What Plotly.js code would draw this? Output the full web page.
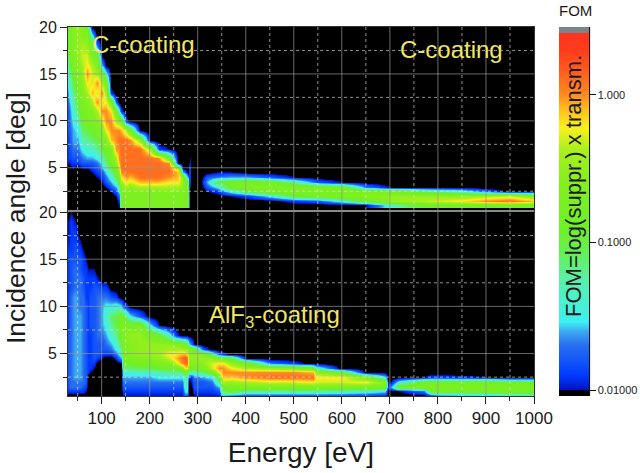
<!DOCTYPE html>
<html><head><meta charset="utf-8">
<script src="https://cdn.plot.ly/plotly-3.0.0.min.js"></script>
<style>html,body{margin:0;padding:0;background:#fff}#c{width:640px;height:473px}</style>
</head><body><div id="c"></div>
<script>
// FOM values are stored as 10*log10(FOM); N = below the 0.01 scale floor (black).
const N = -21;
const topAngles = [1,1.5,2,2.5,3,3.5,4,4.5,5,5.5,6,7,8,9,10,11,12,13,14,15,16,17,18,19,20];
const topEnergies = [30,40,50,60,70,80,90,100,110,120,130,136,140,150,160,180,200,220,240,260,270,279,281,284,287,305,310,320,340,370,400,450,500,550,600,650,700,750,800,850,900,950,1000];
const topFom = [
[N,N,N,N,N,N,N,N,N,-20,-19,-19,-19,-18,-18,-18,-17,-16,-15,-14,-12,-10,-9,-8,-8],
[N,N,N,N,N,N,N,N,-20,-19,-18,-17,-16,-16,-15,-14,-13,-12,-10,-8,-7,-6,-6,-6,-6],
[N,N,N,N,N,N,N,N,N,-19,-18,-17,-16,-15,-13,-11,-9,-8,-7,-6,-6,-5,-5,-5,-5],
[N,N,N,N,N,N,N,N,-20,-18,-17,-15,-13,-11,-9,-8,-7,-6,-6,-5,-4,-3,-4,-6,-6],
[N,N,N,N,N,N,N,N,-20,-18,-16,-14,-12,-10,-8,-7,-6,-4,-2,0,-2,-3,-5,-6,-9],
[N,N,N,N,N,N,N,-20,-19,-18,-16,-14,-11,-9,-7,-6,-4,-1,-3,-3,-4,-7,-8,-14],
[N,N,N,N,N,N,-20,-19,-18,-17,-15,-12,-10,-8,-6,-4,0,-3,0,-4,-7,-8,-17],
[N,N,N,N,N,-20,-19,-18,-16,-15,-13,-10,-8,-6,-3,0,-3,0,-4,-7,-16],
[N,N,N,N,-20,-18,-17,-15,-13,-11,-10,-8,-6,-2,0,0,-2,-5,-7,-14],
[N,N,N,-20,-18,-16,-14,-12,-10,-8,-7,-7,-1,0,0,-2,-7,-19],
[N,N,-20,-18,-16,-13,-10,-8,-7,-5,-4,0,0,0,-4,-8,-18],
[-20,-19,-17,-15,-12,-9,-7,-5,-3,-1,0,0,1,0,-6,-14],
[-8,-8,-8,-7,-6,-4,-2,0,1,1,1,1,1,-1,-7,-19],
[-7,-7,-7,-6,-4,-2,0,1,1,1,1,1,1,-4,-19],
[-7,-7,-7,-7,-5,-3,-1,1,1,1,1,1,0,-8],
[-7,-7,-7,-6,-4,-1,1,1,1,1,1,1,-5],
[-7,-7,-7,-6,-4,-1,1,1,1,1,1,-4],
[-7,-7,-7,-6,-4,-1,1,1,1,1,0,-19],
[-7,-7,-7,-6,-4,-2,0,1,1,0,-8,-20],
[-7,-7,-7,-6,-4,-2,-1,-1,-5,-20],
[-7,-7,-7,-7,-6,-5,-6,-16],
[-8,-8,-8,-8,-8,-9,-17],
[-17,-17,-17,-18,-18,-18,-19,-19,-19,-20],
[N,N,N,N,-20,-19,-19,-19,-19,-20,-20],
[N],
[N],
[N,N,N,N,-20,-19,-20],
[N,N,N,-20,-18,-16,-18],
[N,N,-21,-19,-15,-10,-17,-20],
[N,N,-20,-14,-8,-8,-16,-20],
[N,N,-19,-10,-7,-7,-16],
[N,-21,-15,-7,-7,-8,-18],
[N,-19,-10,-7,-7,-12,-20],
[N,-18,-8,-7,-7,-18],
[N,-14,-7,-7,-8,-20],
[-20,-9,-6,-7,-17],
[-14,-5,-5,-8,-20],
[-10,-4,-5,-10],
[-8,-3,-5,-12],
[-8,-2,-5,-14],
[-8,0,-4,-18],
[-8,1,-3],
[-8,-1,-6]
];
const bottomAngles = [0.5,1,1.5,2,2.5,3,3.5,4,4.5,5,5.5,6,7,8,9,10,11,12,13,14,15,16,17,18,19,20];
const bottomEnergies = [30,36,44,54,62,68,72,76,84,92,100,110,120,130,140,144,160,180,200,220,240,255,268,274,278,282,286,292,310,330,345,352,370,400,450,500,540,546,600,650,690,696,702,720,770,785,800,900,950,1000];
const bottomFom = [
[N,-19,-18,-18,-18,-18,-18,-18,-18,-18,-18,-18,-18,-19,-19,-19,-19,-19,-19,-19,-19,-19,-20,-20,-20],
[N,-19,-17,-17,-17,-17,-17,-17,-17,-17,-17,-17,-17,-17,-17,-17,-17,-18,-18,-18,-18,-19,-19,-19,-19,-20],
[N,-19,-17,-17,-16,-16,-16,-16,-16,-16,-16,-16,-16,-16,-16,-16,-16,-17,-17,-17,-18,-18,-19,-19,-20],
[N,-19,-17,-17,-16,-16,-16,-16,-16,-16,-16,-16,-16,-16,-16,-17,-17,-17,-17,-18,-18,-19,-20],
[N,-19,-18,-17,-17,-17,-17,-17,-17,-17,-17,-17,-17,-17,-17,-17,-17,-18,-18,-19,-19,-20],
[N,-20,-19,-18,-18,-18,-18,-18,-18,-18,-18,-18,-18,-18,-18,-18,-19,-19,-19,-19,-20],
[N,N,N,N,N,-19,-19,-19,-19,-19,-19,-19,-19,-19,-19,-19,-19,-19,-19,-20],
[N,N,N,N,N,-20,-19,-19,-19,-19,-19,-19,-19,-18,-18,-18,-18,-19,-19,-20],
[N,N,N,N,N,N,-20,-19,-18,-18,-18,-18,-18,-18,-18,-18,-18,-18,-19,-20],
[N,N,N,N,N,N,N,N,-19,-18,-18,-18,-17,-17,-17,-17,-17,-18,-20],
[N,N,N,N,N,N,N,N,-20,-19,-18,-18,-17,-16,-16,-16,-17,-19],
[N,N,N,N,N,N,N,N,N,-19,-18,-17,-16,-15,-14,-15,-17,-19],
[N,N,N,N,N,N,N,N,N,-19,-17,-16,-14,-12,-11,-15,-18],
[N,N,N,N,N,N,N,N,-19,-17,-15,-14,-12,-10,-10,-14,-19],
[N,N,N,N,N,N,N,-20,-16,-14,-12,-10,-8,-8,-8,-15],
[-20,-19,-18,-17,-16,-14,-11,-9,-8,-7,-7,-7,-7,-6,-9,-18],
[-20,-19,-18,-17,-16,-14,-11,-9,-7,-6,-6,-6,-5,-8,-15],
[-20,-19,-18,-17,-16,-14,-10,-8,-6,-5,-5,-5,-5,-7,-18],
[-20,-19,-18,-17,-16,-14,-10,-8,-6,-5,-5,-5,-7,-15],
[-20,-19,-18,-17,-15,-13,-9,-7,-5,-4,-5,-5,-9,-20],
[-20,-19,-18,-17,-15,-12,-9,-6,-3,-2,-4,-5,-14],
[-20,-19,-18,-17,-15,-12,-8,-3,-1,-2,-4,-6,-19],
[-20,-19,-18,-17,-15,-11,-6,0,1,-1,-4,-7],
[-18,-15,-14,-14,-13,-9,-2,1,2,-1,-5,-8],
[-18,-15,-14,-14,-13,-9,-2,1,1,-2,-5,-10],
[N,N,N,N,-19,-12,-7,-5,-5,-5,-6,-15],
[N,N,N,-20,-19,-13,-8,-6,-5,-6,-7,-17],
[-20,-19,-18,-18,-17,-13,-8,-6,-5,-5,-8,-20],
[-20,-19,-18,-18,-16,-11,-7,-5,-5,-6,-18],
[-20,-19,-18,-17,-15,-8,-3,-3,-5,-12],
[-20,-18,-16,-12,-8,-2,0,-2,-7,-18],
[-17,-10,-8,-4,-1,0,0,-2,-8,-19],
[-18,-9,-7,-5,-1,0,-2,-5,-9],
[-19,-12,-7,-4,0,0,-4,-7,-20],
[-19,-12,-7,-3,1,0,-5,-17],
[-19,-12,-7,-3,1,0,-6,-19],
[-19,-12,-7,-2,1,-1,-8],
[-19,-12,-7,-3,-2,-5,-13],
[-19,-13,-7,-3,-2,-9],
[-19,-14,-7,-2,-7],
[-20,-15,-8,-6,-15],
[N,N,-19,-20],
[N,N,-16,-20],
[N,-20,-8,-14],
[N,-17,-7,-8,-20],
[-20,-8,-7,-8,-19],
[-18,-8,-7,-8,-19],
[-17,-8,-7,-8,-20],
[-15,-8,-7,-9],
[-14,-8,-7,-9]
];
const majorEnergy = [100,200,300,400,500,600,700,800,900,1000];
const minorEnergy = [50,150,250,350,450,550,650,750,850,950];
const majorAngle = [5,10,15];
const minorAngle = [2.5,7.5,12.5,17.5];
const colorbarTicks = [-20,-10,0];
const colorbarLabels = ['0.01000','0.1000','1.000'];

const zMin=-20.4, zMax=4.6;
const stops=[[-20.4,'#000000'],[-20.01,'#000000'],[-20,'#0010c0'],[-19,'#003cff'],[-17,'#286ef0'],[-16,'#3caaf0'],[-15.4,'#3cf0f0'],[-12.5,'#5af0aa'],[-10.8,'#64f05a'],[-9.1,'#6ef028'],[-6,'#82f01e'],[-3.7,'#aaf01e'],[-2.2,'#faf01e'],[-1,'#ffbe1e'],[0,'#ff8c1e'],[1.7,'#ff5a1e'],[3,'#ff3c1e'],[4.19,'#ff321e'],[4.2,'#78868a'],[4.6,'#78868a']];
const scale=stops.map(s=>[(s[0]-zMin)/(zMax-zMin),s[1]]);

function toGrid(cols,nRows){
  const z=[];
  for(let r=0;r<nRows;r++){z.push(cols.map(c=>r<c.length?c[r]:N));}
  return z;
}
const font='"Liberation Sans",Arial,sans-serif', ink='#1a1a1a';
const traces=[
 {type:'heatmap',x:bottomEnergies,y:bottomAngles,z:toGrid(bottomFom,bottomAngles.length),coloraxis:'coloraxis',zsmooth:'best',xaxis:'x',yaxis:'y',hoverinfo:'skip'},
 {type:'heatmap',x:topEnergies,y:topAngles,z:toGrid(topFom,topAngles.length),coloraxis:'coloraxis',zsmooth:'best',xaxis:'x2',yaxis:'y2',hoverinfo:'skip'}
];
const shapes=[];
function grid(refX,refY){
  const major={color:'rgba(150,150,150,0.7)',width:1};
  const minor={color:'rgba(225,225,225,0.65)',width:1,dash:'dot'};
  majorEnergy.forEach(v=>{if(v<1000)shapes.push({type:'line',xref:refX,yref:refY+' domain',x0:v,x1:v,y0:0,y1:1,line:major,layer:'above'})});
  minorEnergy.forEach(v=>shapes.push({type:'line',xref:refX,yref:refY+' domain',x0:v,x1:v,y0:0,y1:1,line:minor,layer:'above'}));
  majorAngle.forEach(v=>shapes.push({type:'line',xref:refX+' domain',yref:refY,x0:0,x1:1,y0:v,y1:v,line:major,layer:'above'}));
  minorAngle.forEach(v=>shapes.push({type:'line',xref:refX+' domain',yref:refY,x0:0,x1:1,y0:v,y1:v,line:minor,layer:'above'}));
}
grid('x','y');grid('x2','y2');
const W=466,H=369;
shapes.push({type:'line',xref:'paper',yref:'paper',x0:(589.5-68)/W,x1:(589.5-68)/W,y0:0,y1:1,line:{color:'#111',width:1.2}});
shapes.push({type:'line',xref:'paper',yref:'paper',x0:0,x1:1,y0:(396-211)/H,y1:(396-211)/H,line:{color:'#8a8a8a',width:2},layer:'above'});
const yellow='#f0e664';
const center={xanchor:'center',yanchor:'middle',showarrow:false};
const annotations=[
 Object.assign({text:'C-coating',xref:'x2',yref:'y2',x:188,y:18.1,font:{family:font,size:24,color:yellow}},center),
 Object.assign({text:'C-coating',xref:'x2',yref:'y2',x:829,y:17.6,font:{family:font,size:24,color:yellow}},center),
 Object.assign({text:'AlF<sub>3</sub>-coating',xref:'x',yref:'y',x:459,y:8.9,font:{family:font,size:24,color:yellow}},center),
 Object.assign({text:'Incidence angle [deg]',xref:'paper',yref:'paper',x:(16-68)/W,y:(396-218)/H,textangle:-90,font:{family:font,size:26.5,color:ink}},center),
 Object.assign({text:'FOM',xref:'paper',yref:'paper',x:(575-68)/W,y:(396-10)/H,font:{family:font,size:15,color:ink}},center),
 Object.assign({text:'FOM=log(suppr.) x transm.',xref:'paper',yref:'paper',x:(573-68)/W,y:(396-186)/H,textangle:-90,font:{family:font,size:22,color:ink}},center)
];
const baseX={range:[30,1000],showgrid:false,zeroline:false,showline:true,mirror:true,linecolor:'#333',linewidth:1};
const baseY={range:[0.5,20],tickvals:[5,10,15,20],showgrid:false,zeroline:false,showline:true,mirror:true,linecolor:'#333',linewidth:1,
  ticks:'outside',ticklen:7,tickcolor:'#222',tickfont:{family:font,size:16,color:ink},
  minor:{tickvals:minorAngle,ticks:'outside',ticklen:4,tickcolor:'#222',showgrid:false}};
const layout={
 width:640,height:473,paper_bgcolor:'#fff',plot_bgcolor:'#000',showlegend:false,
 margin:{l:68,r:106,t:27,b:77,autoexpand:false},
 xaxis:Object.assign({},baseX,{anchor:'y',tickvals:majorEnergy,ticks:'outside',ticklen:7,tickcolor:'#222',tickfont:{family:font,size:17,color:ink},
   minor:{tickvals:minorEnergy,ticks:'outside',ticklen:4,tickcolor:'#222',showgrid:false},
   title:{text:'Energy [eV]',font:{family:font,size:28,color:ink},standoff:14}}),
 xaxis2:Object.assign({},baseX,{anchor:'y2',showticklabels:false,ticks:'',matches:'x'}),
 yaxis:Object.assign({},baseY,{domain:[0,0.4986],anchor:'x'}),
 yaxis2:Object.assign({},baseY,{domain:[0.504,1],anchor:'x2'}),
 coloraxis:{cmin:zMin,cmax:zMax,colorscale:scale,colorbar:{
   x:(559-68)/W,xref:'paper',xanchor:'left',xpad:0,ypad:0,y:0,yanchor:'bottom',len:1,thickness:30,outlinewidth:0,
   tickmode:'array',tickvals:colorbarTicks,ticktext:colorbarLabels,ticks:'outside',ticklen:7,tickcolor:'#111',
   tickfont:{family:font,size:11,color:ink}}},
 shapes:shapes,annotations:annotations
};
Plotly.newPlot('c',traces,layout,{displayModeBar:false,staticPlot:true});
</script></body></html>
